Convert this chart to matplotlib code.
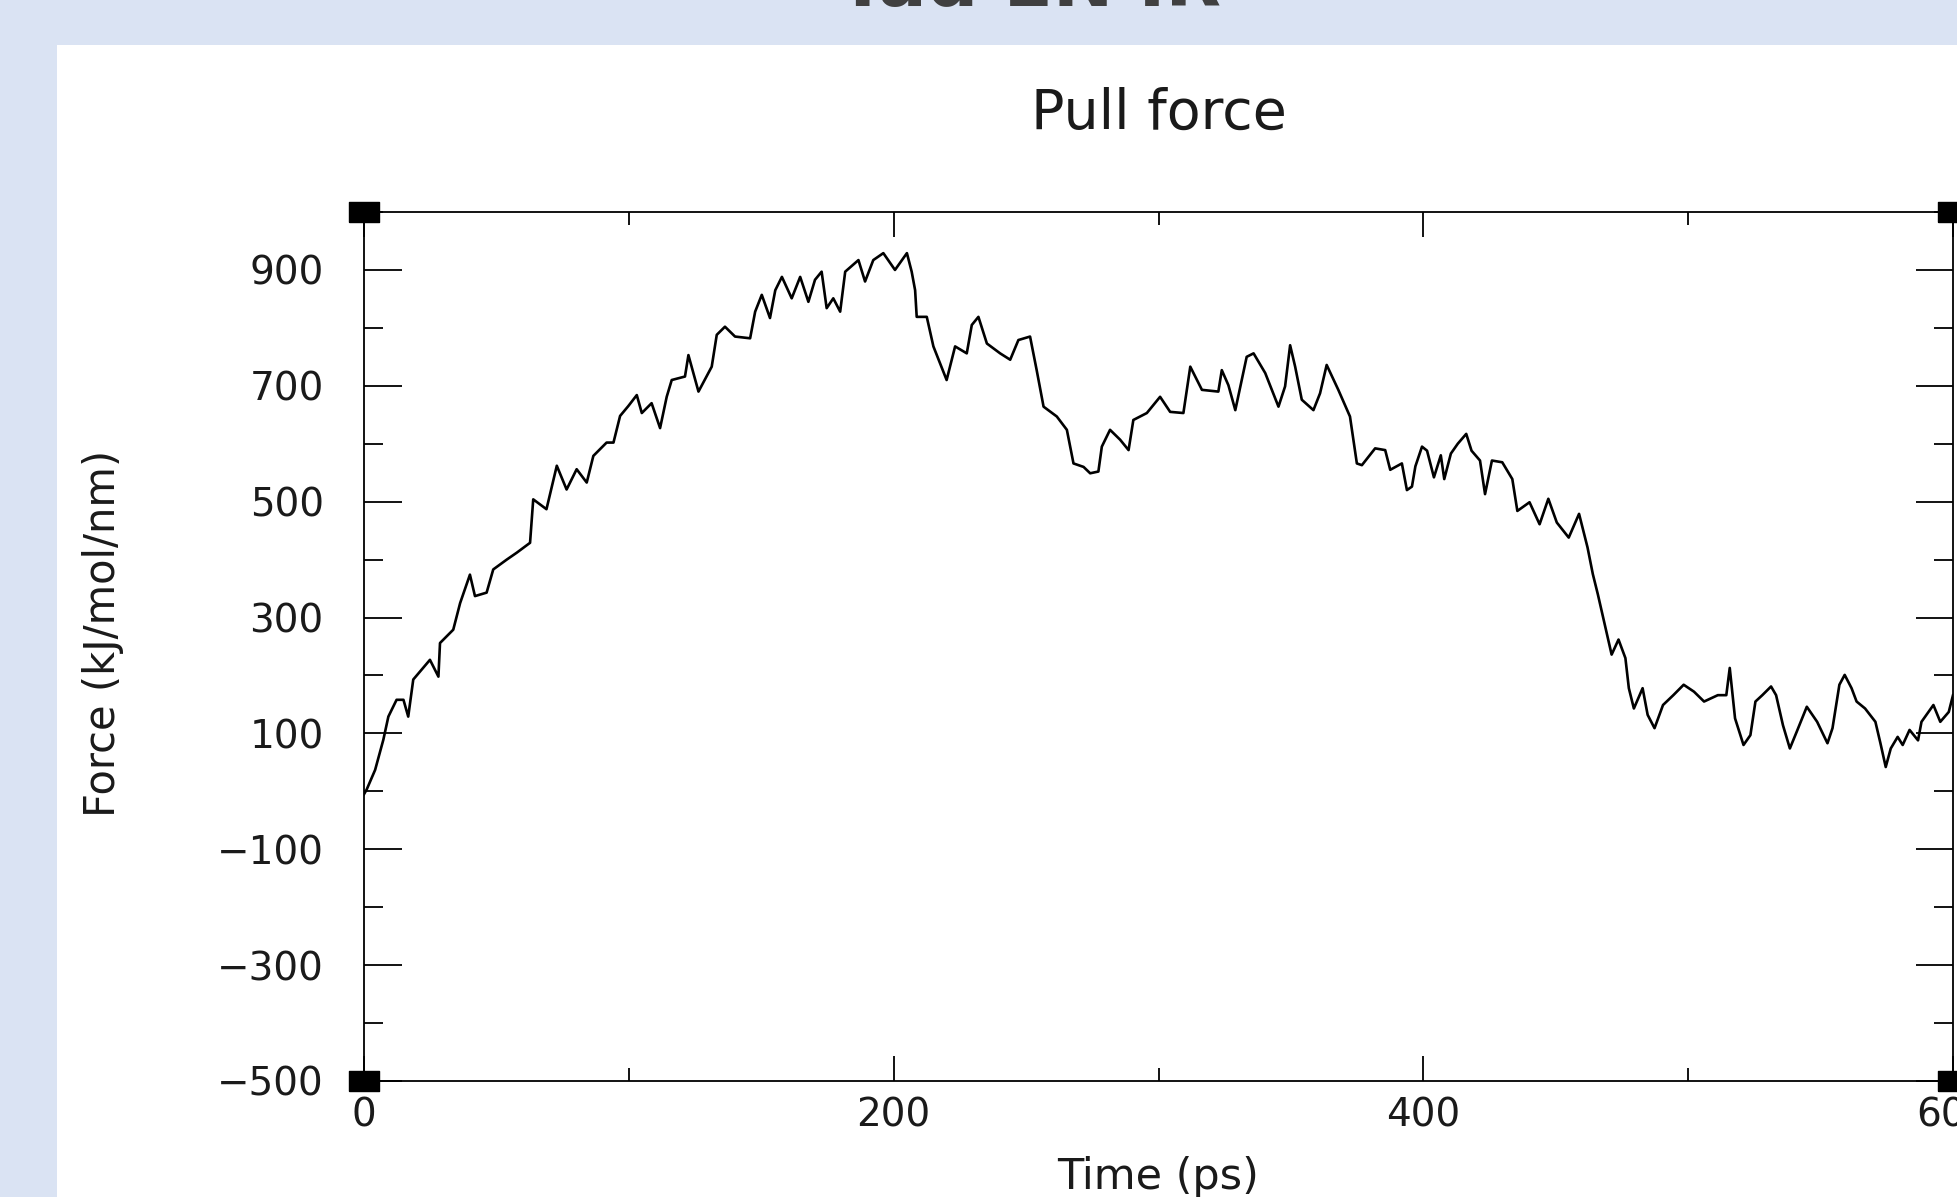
import matplotlib
matplotlib.use('Agg')
import matplotlib.pyplot as plt
from matplotlib.patches import Rectangle

# pull force trace
time_ps = [0.0, 1.0, 4.2, 7.3, 9.2, 12.3, 14.9, 16.7, 18.6, 24.9, 28.1, 28.7, 33.7, 36.3,
           40.0, 41.9, 46.3, 48.8, 53.9, 57.7, 62.7, 63.9, 68.9, 72.8, 76.5, 80.3, 84.1,
           86.6, 91.6, 94.2, 96.7, 99.8, 103.0, 104.9, 108.6, 111.8, 114.3, 116.2, 121.2,
           122.5, 126.3, 131.3, 133.2, 136.3, 140.1, 145.8, 147.7, 150.2, 153.3, 155.3,
           157.8, 161.5, 164.7, 167.8, 170.3, 172.8, 174.7, 177.2, 179.8, 181.7, 186.7,
           189.2, 192.3, 196.1, 200.5, 205.0, 206.8, 208.1, 208.7, 212.5, 215.0, 220.0,
           223.2, 227.6, 229.5, 232.0, 235.2, 240.2, 244.0, 247.1, 251.5, 254.0, 256.6,
           261.6, 265.4, 267.9, 271.7, 274.2, 277.3, 278.6, 281.7, 285.5, 288.7, 290.5,
           295.6, 300.6, 304.4, 309.4, 312.0, 316.4, 322.6, 323.9, 326.4, 329.0, 333.3,
           335.9, 340.3, 345.3, 347.8, 349.7, 351.6, 354.1, 358.5, 361.0, 363.5, 367.9,
           372.3, 374.9, 376.8, 381.8, 385.6, 387.5, 391.9, 393.8, 395.7, 397.0, 399.5,
           401.4, 404.0, 406.6, 407.9, 410.4, 413.0, 416.2, 418.2, 421.4, 423.3, 425.9,
           429.8, 433.6, 435.5, 440.1, 443.9, 447.2, 450.4, 454.9, 458.8, 462.0, 464.0,
           465.9, 469.1, 471.1, 473.7, 476.3, 477.6, 479.5, 482.8, 484.7, 487.3, 490.5,
           494.4, 498.3, 502.2, 506.0, 511.2, 514.4, 515.7, 517.7, 520.9, 523.5, 525.4,
           528.0, 531.3, 533.2, 535.8, 538.4, 541.0, 544.8, 548.7, 552.6, 554.5, 557.1,
           559.1, 561.7, 563.6, 566.8, 570.7, 572.6, 574.6, 576.5, 579.1, 581.0, 583.6,
           586.8, 588.1, 592.6, 595.2, 598.4, 600.0]
force_kj = [-5, 3, 37, 89, 129, 158, 158, 129, 193, 227, 198, 256, 279, 325,
            374, 337, 343, 383, 400, 412, 429, 504, 487, 562, 521, 556, 533,
            579, 602, 602, 648, 665, 684, 653, 670, 627, 681, 710, 716,
            753, 690, 733, 788, 802, 785, 782, 828, 857, 817, 865,
            888, 851, 888, 845, 883, 897, 834, 851, 828, 897, 917,
            880, 917, 929, 900, 929, 897, 865, 819, 819, 768, 710,
            768, 756, 805, 819, 773, 756, 745, 779, 785, 727, 664,
            647, 624, 566, 560, 549, 552, 595, 624, 607, 589, 641,
            653, 681, 655, 653, 733, 693, 690, 727, 701, 658, 750,
            756, 722, 664, 699, 770, 733, 676, 658, 687, 736, 693,
            647, 566, 563, 592, 589, 555, 566, 520, 526, 561, 595,
            588, 542, 580, 539, 583, 600, 617, 588, 571, 513, 571,
            568, 539, 484, 499, 461, 505, 464, 438, 479, 421, 375,
            340, 276, 236, 262, 230, 178, 143, 178, 132, 109, 149,
            166, 184, 172, 155, 166, 166, 213, 126, 80, 97, 155,
            166, 181, 166, 114, 74, 103, 146, 120, 83, 109, 184,
            201, 178, 155, 143, 120, 83, 42, 74, 94, 80, 106,
            88, 120, 149, 120, 137, 166]

x_major = [0, 200, 400, 600]
x_minor = [100, 300, 500]
y_major = [-500, -300, -100, 100, 300, 500, 700, 900]
y_minor = [-400, -200, 0, 200, 400, 600, 800, 1000]

plt.rcParams['font.family'] = ['DejaVu Sans']

fig = plt.figure(figsize=(19.57, 11.97), dpi=100)
fig.patch.set_facecolor('#dae3f3')
# white slide panel
fig.add_artist(Rectangle((57 / 1957, 0), 1, 1 - 45 / 1197, transform=fig.transFigure,
                         facecolor='white', edgecolor='none', zorder=0))
# slide heading, mostly cut off at the top
fig.text(0.526, 1 - 6 / 1197, 'Tad EN IR', ha='center', va='baseline',
         fontsize=52, fontweight='bold', color='#404040')

ax = fig.add_axes([364 / 1957, 116 / 1197, 1589 / 1957, 869 / 1197])
ax.set_facecolor('none')
ax.plot(time_ps, force_kj, color='black', lw=1.9)

ax.set_xlim(0, 600)
ax.set_ylim(-500, 1000)
ax.set_xticks(x_major)
ax.set_xticks(x_minor, minor=True)
ax.set_yticks(y_major)
ax.set_yticks(y_minor, minor=True)

for s in ax.spines.values():
    s.set_linewidth(1.3)
ax.tick_params(which='both', direction='in', top=True, right=True, width=1.3,
               labelcolor='#1a1a1a')
ax.tick_params(axis='y', which='major', length=27, pad=29, labelsize=28)
ax.tick_params(axis='y', which='minor', length=13.5)
ax.tick_params(axis='x', which='major', length=18, pad=11, labelsize=28)
ax.tick_params(axis='x', which='minor', length=9.5)

ax.set_title('Pull force', fontsize=40, pad=60, color='#1a1a1a')
ax.set_xlabel('Time (ps)', fontsize=31, color='#1a1a1a')
ax.xaxis.set_label_coords(0.5, -0.0866)
ax.set_ylabel('Force (kJ/mol/nm)', fontsize=30, color='#1a1a1a')
ax.yaxis.set_label_coords(-0.151, 0.515)

# little black squares on the frame corners
rect = [(-1.5, -1), (1.5, -1), (1.5, 1), (-1.5, 1), (-1.5, -1)]
ax.plot([0, 1, 0, 1], [0, 0, 1, 1], transform=ax.transAxes, ls='none',
        marker=rect, ms=22, color='black', clip_on=False)

fig.savefig('out.png', dpi=100, facecolor=fig.get_facecolor())
plt.close()
